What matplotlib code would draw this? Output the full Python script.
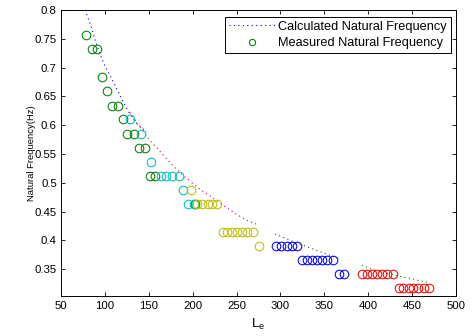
import matplotlib
matplotlib.use("Agg")
import matplotlib.pyplot as plt
from matplotlib.lines import Line2D
from matplotlib.ticker import FormatStrFormatter

plt.rcParams['font.family'] = ['Liberation Sans', 'DejaVu Sans']

# ---- Measured natural frequency (circles), grouped by colour ----
green_x = [78, 85, 91, 96.3, 102.4, 108.5, 115.3, 120.3, 125.5, 133.2, 139.2, 145.7, 151, 157.5, 203]
green_y = [0.756, 0.732, 0.732, 0.683, 0.659, 0.634, 0.634, 0.610, 0.585, 0.585, 0.561, 0.561, 0.512, 0.512, 0.463]

cyan_x = [128.6, 141.1, 152.5, 164, 170, 176, 184, 188.5, 195, 201]
cyan_y = [0.610, 0.585, 0.537, 0.512, 0.512, 0.512, 0.512, 0.488, 0.463, 0.463]

yellow_x = [198.5, 205, 211, 217, 222.5, 228, 234, 239.5, 245, 250.5, 256, 262, 268.5, 276]
yellow_y = [0.488, 0.463, 0.463, 0.463, 0.463, 0.463, 0.415, 0.415, 0.415, 0.415, 0.415, 0.415, 0.415, 0.390]

blue_x = [294.5, 301, 307, 313, 319, 324, 330, 335.5, 341.3, 347, 352.7, 359.5, 366.7, 372.7]
blue_y = [0.390, 0.390, 0.390, 0.390, 0.390, 0.366, 0.366, 0.366, 0.366, 0.366, 0.366, 0.366, 0.3415, 0.3415]

red_x = [392.5, 398.5, 404, 410, 415.5, 421.5, 428, 434.5, 440, 446, 451.5, 457, 463, 469]
red_y = [0.3415, 0.3415, 0.3415, 0.3415, 0.3415, 0.3415, 0.3415, 0.317, 0.317, 0.317, 0.317, 0.317, 0.317, 0.317]

# ---- Calculated natural frequency (dotted), segments ----
calc1_x = [77.5, 84.2, 89.5, 96.4, 100.9, 106.6, 111.9, 117.2, 124.8, 134.3, 143.8, 147.6]
calc1_y = [0.800, 0.772, 0.745, 0.716, 0.700, 0.684, 0.668, 0.652, 0.629, 0.606, 0.593, 0.589]
calc2_x = [128.6, 136.2, 151.4, 160.9, 169.6, 179.9, 191.3, 198.0]
calc2_y = [0.622, 0.605, 0.573, 0.558, 0.5425, 0.526, 0.510, 0.502]
calc3_x = [199.0, 203.8, 209.1, 215.2, 220.9, 226.6, 238.0, 249.4, 260.8, 272.1]
calc3_y = [0.500, 0.4944, 0.4875, 0.482, 0.476, 0.470, 0.4575, 0.446, 0.4354, 0.4285]
calc4_x = [293.8, 299.5, 306.0, 312.0, 328.7, 340.2, 351.9, 368.6]
calc4_y = [0.411, 0.4076, 0.4036, 0.3995, 0.390, 0.3833, 0.3764, 0.3677]
calc5_x = [392.6, 398.3, 404.0, 438.1, 449.5, 461.6, 467.7]
calc5_y = [0.357, 0.3533, 0.350, 0.337, 0.3335, 0.329, 0.3273]

x_ticks = [50, 100, 150, 200, 250, 300, 350, 400, 450, 500]
y_ticks = [0.35, 0.4, 0.45, 0.5, 0.55, 0.6, 0.65, 0.7, 0.75, 0.8]

C_GREEN = (0, 0.5, 0)
C_CYAN = (0, 0.75, 0.75)
C_YELLOW = (0.75, 0.75, 0)
C_BLUE = (0, 0, 1)
C_RED = (1, 0, 0)
C_MAG = (0.75, 0, 0.75)
C_GREY = (0.25, 0.25, 0.25)

W, H = 477, 336
fig = plt.figure(figsize=(W / 100, H / 100), dpi=100)
ax = fig.add_axes([61 / W, 1 - 296.3 / H, (456 - 61) / W, (296.3 - 10) / H])

dot = (0, (1.0, 3.0))
for xs, ys, c in [(calc1_x, calc1_y, C_BLUE), (calc2_x, calc2_y, C_RED),
                  (calc3_x, calc3_y, C_MAG), (calc4_x, calc4_y, C_GREY),
                  (calc5_x, calc5_y, C_GREEN)]:
    ax.plot(xs, ys, linestyle=dot, color=c, linewidth=0.8)

mk = dict(linestyle='none', marker='o', markersize=6.2, markerfacecolor='none', markeredgewidth=0.75)
for xs, ys, c in [(green_x, green_y, C_GREEN), (cyan_x, cyan_y, C_CYAN),
                  (yellow_x, yellow_y, C_YELLOW), (blue_x, blue_y, C_BLUE),
                  (red_x, red_y, C_RED)]:
    ax.plot(xs, ys, markeredgecolor=c, **mk)

ax.set_xlim(50, 500)
ax.set_ylim(0.303, 0.8)
ax.set_xticks(x_ticks)
ax.set_yticks(y_ticks)
ax.yaxis.set_major_formatter(FormatStrFormatter('%g'))
ax.tick_params(direction='in', top=True, right=True, length=3, width=0.6,
               labelsize=8.2, colors='black')
ax.tick_params(axis='y', pad=3)
ax.tick_params(axis='x', pad=3.5)
for s in ax.spines.values():
    s.set_linewidth(0.7)
    s.set_color('black')

ax.set_ylabel('Natural Frequency(Hz)', fontsize=6.8)
ax.yaxis.set_label_coords(-0.063, 0.5)
ax.set_xlabel(r'$\mathregular{L_e}$', fontsize=9.5)
ax.xaxis.set_label_coords(0.5, -0.072)

leg_mk = dict(mk)
leg_mk['markersize'] = 4.5
handles = [Line2D([], [], linestyle=dot, color=C_BLUE, linewidth=0.8),
           Line2D([], [], markeredgecolor=C_GREEN, **leg_mk)]
leg = ax.legend(handles, ['Calculated Natural Frequency', 'Measured Natural Frequency'],
                loc='upper right', bbox_to_anchor=(0.987, 0.976), borderaxespad=0,
                fontsize=9.2, handlelength=3.7, handletextpad=0.2, borderpad=0.3,
                labelspacing=0.35, fancybox=False, framealpha=1, edgecolor='black')
leg.get_frame().set_linewidth(0.7)

fig.savefig('out.png', dpi=100)
